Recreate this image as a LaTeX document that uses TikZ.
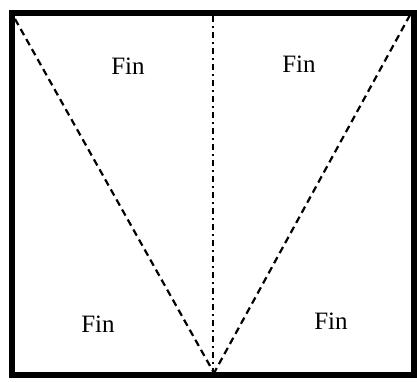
\documentclass[tikz,border=0pt]{standalone}
\usepackage{fontspec}
\setmainfont{Liberation Serif}
\begin{document}
\begin{tikzpicture}[x=1pt,y=1pt,
  frame/.style={line width=6pt},
  finline/.style={line width=2.2pt, dash pattern=on 7pt off 4.5pt},
  axisline/.style={line width=1.8pt, dash pattern=on 6pt off 4pt on 2pt off 4pt},
  lbl/.style={font=\fontsize{25}{28}\selectfont, inner sep=0pt}]
\useasboundingbox (0,0) rectangle (417,381);
\fill[white] (0,0) rectangle (417,381);
\draw[frame] (12,6) rectangle (414,368);
\coordinate (tl) at (15,362);
\coordinate (tr) at (410,366);
\coordinate (apex) at (214,8);
\coordinate (ctop) at (213,365);
\coordinate (cbot) at (213,8);
\draw[finline] (tl) -- (apex);
\draw[finline] (tr) -- (apex);
\draw[axisline] (ctop) -- (cbot);
\node[lbl] (f1) at (128,315) {Fin};
\node[lbl] (f2) at (299,317) {Fin};
\node[lbl] (f3) at (98,57) {Fin};
\node[lbl] (f4) at (331,60) {Fin};
\end{tikzpicture}
\end{document}
